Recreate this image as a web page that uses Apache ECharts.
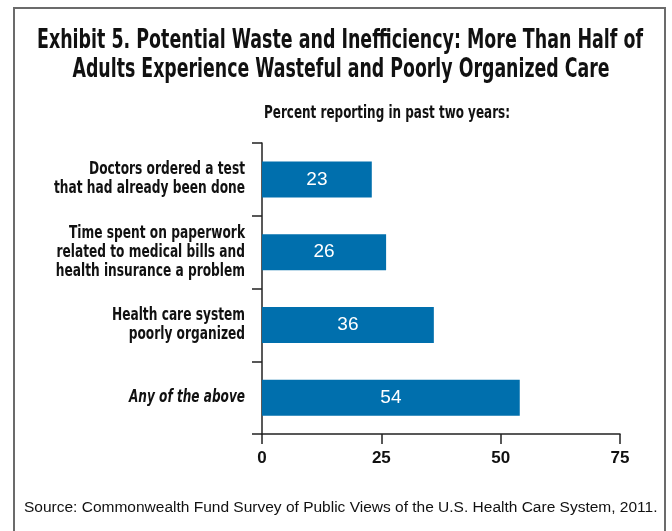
<!DOCTYPE html>
<html>
<head>
<meta charset="utf-8">
<script src="https://cdn.jsdelivr.net/npm/echarts@6/dist/echarts.min.js"></script>
<style>
  html, body { margin: 0; padding: 0; background: #fff; }
  #chart { width: 672px; height: 531px; }
</style>
</head>
<body>
<div id="chart"></div>
<script>
// Survey items, top to bottom (each entry is a list of text lines)
const categories = [
  ['Doctors ordered a test', 'that had already been done'],
  ['Time spent on paperwork', 'related to medical bills and', 'health insurance a problem'],
  ['Health care system', 'poorly organized'],
  ['Any of the above']
];
// Percent reporting in past two years
const percents = [23, 26, 36, 54];
// Value-axis ticks
const xTicks = [0, 25, 50, 75];

const titleLines = [
  'Exhibit 5. Potential Waste and Inefficiency: More Than Half of',
  'Adults Experience Wasteful and Poorly Organized Care'
];
const subtitle = 'Percent reporting in past two years:';
const source = 'Source: Commonwealth Fund Survey of Public Views of the U.S. Health Care System, 2011.';

const condensed = '"DejaVu Sans Condensed", "Liberation Sans Narrow", sans-serif';
const plain = '"Liberation Sans", Arial, sans-serif';
const BLUE = '#006fad';
const INK = '#111';

// Horizontal squeeze so a line of condensed type spans a given width
const measureCtx = document.createElement('canvas').getContext('2d');
function squeeze(text, font, width) {
  measureCtx.font = font;
  return width / measureCtx.measureText(text).width;
}

const chart = echarts.init(document.getElementById('chart'), null, { renderer: 'canvas' });

chart.setOption({
  animation: false,
  backgroundColor: '#fff',
  grid: { left: 262, right: 52, top: 143, bottom: 97, containLabel: false },
  xAxis: {
    type: 'value',
    min: xTicks[0],
    max: xTicks[xTicks.length - 1],
    interval: xTicks[1] - xTicks[0],
    axisLine: { show: true, lineStyle: { color: '#222', width: 1.5 } },
    axisTick: { show: true, length: 10, lineStyle: { color: '#222', width: 1.5 } },
    splitLine: { show: false },
    axisLabel: { color: INK, fontFamily: plain, fontWeight: 'bold', fontSize: 17, margin: 16 }
  },
  yAxis: {
    type: 'category',
    inverse: true,
    data: categories.map(function (c) { return c.join(' '); }),
    axisLine: { show: true, lineStyle: { color: '#222', width: 1.5 } },
    axisTick: { show: true, length: 10, lineStyle: { color: '#222', width: 1.5 } },
    axisLabel: { show: false }
  },
  series: [{
    type: 'bar',
    data: percents,
    barWidth: 36,
    itemStyle: { color: BLUE },
    label: {
      show: true,
      position: 'inside',
      color: '#fff',
      fontFamily: plain,
      fontSize: 19
    }
  }]
});

// Category labels: condensed bold type, right-aligned against the axis,
// vertically centred on each band of the category scale
const catFont = 'bold 17px ' + condensed;
const catItalic = 'italic bold 17px ' + condensed;
const catScale = squeeze('that had already been done', catFont, 191);
const lineGap = 19;
const labelRight = 245;
const graphics = [];

categories.forEach(function (lines, i) {
  const cy = chart.convertToPixel({ yAxisIndex: 0 }, i);
  const italic = lines[0] === 'Any of the above';
  const font = italic ? catItalic : catFont;
  const sx = italic ? squeeze(lines[0], catItalic, 116) : catScale;
  lines.forEach(function (t, k) {
    const y = cy + (k - (lines.length - 1) / 2) * lineGap;
    graphics.push({
      type: 'text', x: labelRight, y: y, scaleX: sx, originX: 0,
      style: { text: t, font: font, fill: INK, align: 'right', verticalAlign: 'middle' },
      silent: true
    });
  });
});

const titleFont = 'bold 26px ' + condensed;
const subFont = 'bold 18px ' + condensed;

graphics.push(
  {
    type: 'rect',
    shape: { x: 14, y: 8, width: 651, height: 540 },
    style: { fill: 'none', stroke: '#6b6b6b', lineWidth: 2 },
    silent: true
  },
  {
    type: 'text', x: 340, y: 41, scaleX: squeeze(titleLines[0], titleFont, 606),
    style: { text: titleLines[0], font: titleFont, fill: INK, align: 'center', verticalAlign: 'middle' },
    silent: true
  },
  {
    type: 'text', x: 341, y: 70, scaleX: squeeze(titleLines[1], titleFont, 537),
    style: { text: titleLines[1], font: titleFont, fill: INK, align: 'center', verticalAlign: 'middle' },
    silent: true
  },
  {
    type: 'text', x: 387, y: 113, scaleX: squeeze(subtitle, subFont, 246),
    style: { text: subtitle, font: subFont, fill: INK, align: 'center', verticalAlign: 'middle' },
    silent: true
  },
  {
    type: 'text', x: 24, y: 508,
    style: { text: source, font: '15.5px ' + plain, fill: INK, align: 'left', verticalAlign: 'middle' },
    silent: true
  }
);

chart.setOption({ graphic: graphics });
</script>
</body>
</html>
